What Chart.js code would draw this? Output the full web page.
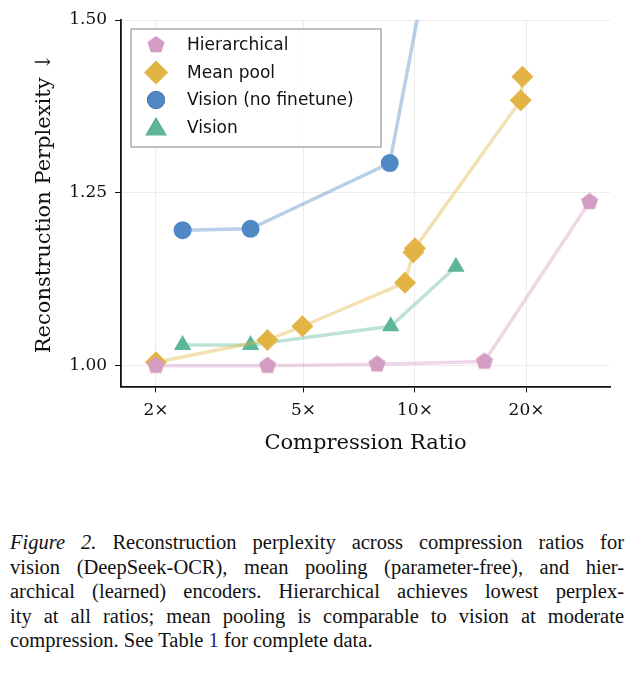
<!DOCTYPE html>
<html>
<head>
<meta charset="utf-8">
<script src="https://cdn.jsdelivr.net/npm/chart.js@4"></script>
<style>
  body { margin: 0; background: #fff; width: 636px; height: 680px; overflow: hidden; }
  #wrap { position: relative; width: 636px; height: 460px; }
  .caption { position: absolute; left: 10px; top: 530px; width: 614px; font-family: "Liberation Serif", serif; font-size: 20.5px; line-height: 24.5px; color: #111; }
  .caption div { text-align: justify; text-align-last: justify; white-space: nowrap; }
  .caption div.last { text-align-last: left; }
  .caption a { color: #1a2a8a; text-decoration: none; }
</style>
</head>
<body>
<div id="wrap"><canvas id="c" width="636" height="460"></canvas></div>
<div class="caption">
  <div><i>Figure 2.</i> Reconstruction perplexity across compression ratios for</div>
  <div>vision (DeepSeek-OCR), mean pooling (parameter-free), and hier-</div>
  <div>archical (learned) encoders. Hierarchical achieves lowest perplex-</div>
  <div>ity at all ratios; mean pooling is comparable to vision at moderate</div>
  <div class="last">compression. See Table <a>1</a> for complete data.</div>
</div>
<script>
const hierX = [2, 4, 7.9, 15.4, 29.6];
const hierY = [1.0, 1.0, 1.002, 1.006, 1.237];
const meanX = [2, 4, 4.97, 9.4, 9.9, 10, 19.3, 19.5];
const meanY = [1.005, 1.037, 1.057, 1.12, 1.164, 1.17, 1.384, 1.418];
const visNfX = [2.36, 3.6, 8.55, 11];
const visNfY = [1.196, 1.198, 1.293, 1.6];
const visX = [2.36, 3.6, 8.6, 12.9];
const visY = [1.03, 1.03, 1.057, 1.143];
const xTicks = [2, 5, 10, 20];
const yTicks = [1.0, 1.25, 1.5];

function pentagon(color, r) {
  const c = document.createElement('canvas');
  c.width = c.height = r * 2 + 2;
  const g = c.getContext('2d');
  g.fillStyle = color;
  g.beginPath();
  for (let i = 0; i < 5; i++) {
    const a = -Math.PI / 2 + i * 2 * Math.PI / 5;
    g.lineTo(r + 1 + r * Math.cos(a), r + 1 + r * Math.sin(a));
  }
  g.closePath();
  g.fill();
  return c;
}

const pink = '#d49cc2', gold = '#e2b444', blue = '#4f88c4', green = '#5db697';
const pent = pentagon(pink, 9);

function series(label, xs, ys, color, style, radius) {
  return {
    label,
    data: xs.map((x, i) => ({ x, y: ys[i] })),
    borderColor: color + '66',
    backgroundColor: color,
    pointBackgroundColor: color,
    pointBorderWidth: 0,
    pointStyle: style,
    pointRadius: radius,
    borderWidth: 3.5,
    showLine: true,
    clip: false
  };
}

const datasets = [
  series('Hierarchical', hierX, hierY, pink, pent, 9),
  series('Mean pool', meanX, meanY, gold, 'rectRot', 11),
  series('Vision (no finetune)', visNfX, visNfY, blue, 'circle', 9),
  series('Vision', visX, visY, green, 'triangle', 10)
];
datasets[2].clip = { left: false, right: false, top: 0, bottom: false };

const legendBox = {
  id: 'legendBox',
  afterDatasetsDraw(chart) {
    const g = chart.ctx, a = chart.chartArea;
    const x0 = a.left + 10, y0 = a.top + 9, w = 250, h = 118;
    g.save();
    g.fillStyle = 'rgba(255,255,255,0.85)';
    g.fillRect(x0, y0, w, h);
    g.strokeStyle = '#aaa';
    g.lineWidth = 1.5;
    g.strokeRect(x0, y0, w, h);
    g.font = '17px "DejaVu Sans"';
    g.textBaseline = 'middle';
    datasets.forEach((d, i) => {
      const cy = y0 + 16 + i * 27.5, cx = x0 + 25;
      Chart.helpers.drawPoint(g, { pointStyle: d.pointStyle, radius: d.pointRadius, borderWidth: 0 }, cx, cy);
      g.fillStyle = d.backgroundColor;
      g.beginPath();
      if (d.pointStyle === 'circle') g.arc(cx, cy, 9, 0, Math.PI * 2);
      else if (d.pointStyle === 'rectRot') { g.moveTo(cx, cy - 12); g.lineTo(cx + 12, cy); g.lineTo(cx, cy + 12); g.lineTo(cx - 12, cy); }
      else if (d.pointStyle === 'triangle') { g.moveTo(cx, cy - 10); g.lineTo(cx + 11, cy + 8); g.lineTo(cx - 11, cy + 8); }
      g.closePath();
      if (typeof d.pointStyle === 'string') g.fill();
      g.fillStyle = '#111';
      g.fillText(d.label, x0 + 56, cy + 1);
    });
    g.restore();
  }
};

new Chart(document.getElementById('c'), {
  type: 'scatter',
  data: { datasets },
  plugins: [legendBox],
  options: {
    responsive: false,
    animation: false,
    layout: { padding: { top: 20, right: 26, left: 28 } },
    plugins: { legend: { display: false }, tooltip: { enabled: false } },
    scales: {
      x: {
        type: 'logarithmic', min: 1.61, max: 33.6,
        afterBuildTicks: s => { s.ticks = xTicks.map(v => ({ value: v })); },
        ticks: { callback: v => v + '×', color: '#111', font: { family: 'DejaVu Serif', size: 17 }, padding: 8, maxRotation: 0 },
        grid: { color: '#ececec', lineWidth: 1, tickColor: '#111', tickLength: 6, drawOnChartArea: true },
        border: { color: '#111', width: 1.8 },
        title: { display: true, text: 'Compression Ratio', color: '#111', font: { family: 'DejaVu Serif', size: 21 }, padding: { top: 2 } }
      },
      y: {
        min: 0.97, max: 1.5,
        afterBuildTicks: s => { s.ticks = yTicks.map(v => ({ value: v })); },
        ticks: { callback: v => v.toFixed(2), color: '#111', font: { family: 'DejaVu Serif', size: 17 }, padding: 8 },
        grid: { color: '#ececec', lineWidth: 1, tickColor: '#111', tickLength: 6 },
        border: { color: '#111', width: 1.8 },
        title: { display: true, text: 'Reconstruction Perplexity ↓', color: '#111', font: { family: 'DejaVu Serif', size: 21 }, padding: { bottom: 4 } }
      }
    }
  }
});
</script>
</body>
</html>
